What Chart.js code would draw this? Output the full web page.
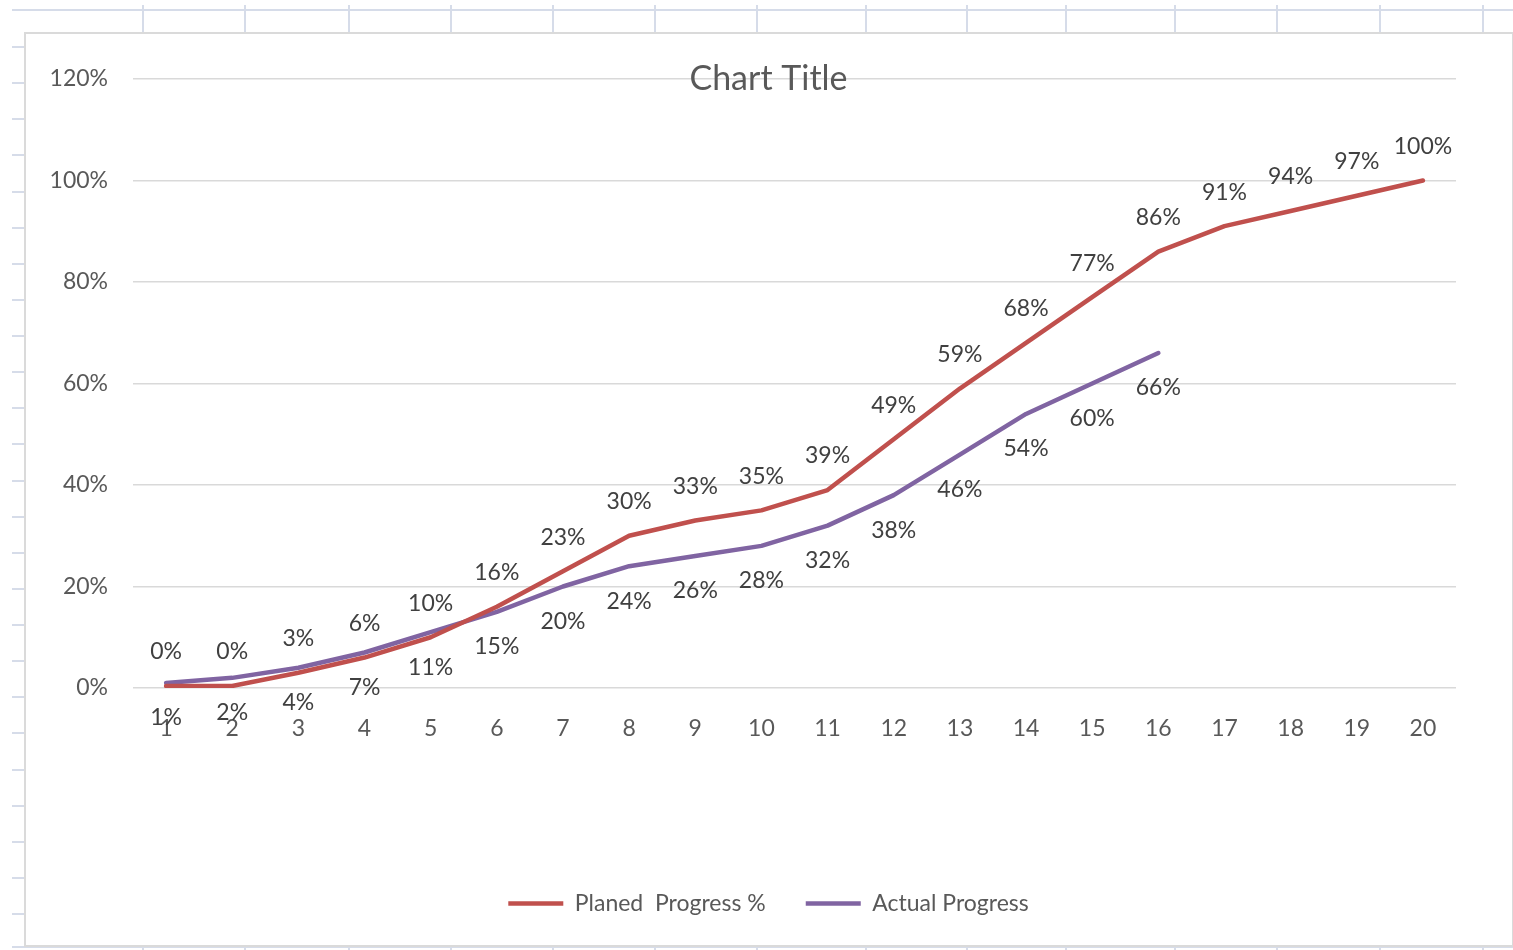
<!DOCTYPE html>
<html><head><meta charset="utf-8">
<script src="https://cdn.jsdelivr.net/npm/chart.js@4.4.1/dist/chart.umd.min.js"></script>
<style>
html,body{margin:0;padding:0;background:#fff;width:1513px;height:950px;overflow:hidden;position:relative}
.h{position:absolute;height:2px;background:#d6dce9}
.v{position:absolute;width:2px;background:#d6dce9}
#box{position:absolute;left:24px;top:32px;width:1486px;height:911px;border:2px solid #dadada;background:#fff}
#c{position:absolute;left:0;top:0}
</style></head><body>
<div id="sheet"></div>
<div id="box"></div>
<canvas id="c" width="1513" height="950"></canvas>
<script>
// ---- data ----
const categories = ['1','2','3','4','5','6','7','8','9','10','11','12','13','14','15','16','17','18','19','20'];
const plannedProgress = [0.004,0.004,0.03,0.06,0.10,0.16,0.23,0.30,0.33,0.35,0.39,0.49,0.59,0.68,0.77,0.86,0.91,0.94,0.97,1.00];
const actualProgress = [0.01,0.02,0.04,0.07,0.11,0.15,0.20,0.24,0.26,0.28,0.32,0.38,0.46,0.54,0.60,0.66];
const seriesNames = ['Planed  Progress %','Actual Progress'];
const yTickValues = [0,0.2,0.4,0.6,0.8,1.0,1.2];
const chartTitle = 'Chart Title';

// ---- spreadsheet background (decoration) ----
const sheet = document.getElementById('sheet');
function addLine(cls, l, t, w, h){const d=document.createElement('div');d.className=cls;d.style.left=l+'px';d.style.top=t+'px';if(w!=null)d.style.width=w+'px';if(h!=null)d.style.height=h+'px';sheet.appendChild(d);}
addLine('h',12,9,1501,null);
addLine('h',12,946,1501,null);
[143,245,349,451,553,655,757,866,967,1066,1175,1277,1380,1483].forEach(x=>{addLine('v',x-1,5,null,28);addLine('v',x-1,944,null,6);});
for(let k=0;k<25;k++){addLine('h',12,Math.round(46+36.125*k),13,null);}

const FONT = 'Lato, "Open Sans", sans-serif';
const AXIS_COLOR = '#595959';
const FS = 23;

const labelPlugin = {
  id: 'pointLabels',
  afterDatasetsDraw(chart, args, opts){
    const ctx = chart.ctx;
    chart.data.datasets.forEach((ds, i) => {
      const meta = chart.getDatasetMeta(i);
      const off = opts.offsets[i];
      meta.data.forEach((pt, j) => {
        const v = ds.data[j];
        if (v == null) return;
        ctx.save();
        ctx.font = opts.size + 'px ' + FONT;
        ctx.fillStyle = '#404040';
        ctx.textAlign = 'center';
        ctx.textBaseline = 'middle';
        ctx.fillText(Math.round(v*100) + '%', pt.x, pt.y + off);
        ctx.restore();
      });
    });
  }
};
const titlePlugin = {
  id: 'overlayTitle',
  afterLayout(chart, args, opts){
    // center the legend row on the chart box rather than the canvas
    const lg = chart.legend;
    if (lg) { const shift = opts.x - (lg.left + lg.right)/2; lg.left += shift; lg.right += shift; }
  },
  afterDraw(chart, args, opts){
    const ctx = chart.ctx;
    ctx.save();
    ctx.font = opts.size + 'px ' + FONT;
    ctx.fillStyle = AXIS_COLOR;
    ctx.textAlign = 'center';
    ctx.textBaseline = 'middle';
    ctx.fillText(chartTitle, opts.x, chart.scales.y.getPixelForValue(1.2) + opts.dy);
    ctx.restore();
  }
};

new Chart(document.getElementById('c'), {
  type: 'line',
  data: {
    labels: categories,
    datasets: [
      {label: seriesNames[0], data: plannedProgress, borderColor: '#C0504D', backgroundColor: '#C0504D', borderWidth: 4.5, pointRadius: 0, tension: 0, borderJoinStyle: 'round', borderCapStyle: 'round'},
      {label: seriesNames[1], data: actualProgress, borderColor: '#8064A2', backgroundColor: '#8064A2', borderWidth: 4.5, pointRadius: 0, tension: 0, borderJoinStyle: 'round', borderCapStyle: 'round'}
    ]
  },
  options: {
    responsive: false,
    animation: false,
    devicePixelRatio: 1,
    layout: {padding: {left: 0, right: 57, top: 79, bottom: 25}},
    scales: {
      x: {
        offset: true,
        grid: {display: false},
        border: {display: false},
        ticks: {color: AXIS_COLOR, font: {family: FONT, size: FS}, padding: 19, maxRotation: 0, autoSkip: false},
        afterFit(s){ s.height = 164; }
      },
      y: {
        min: 0, max: 1.2,
        afterBuildTicks(s){ s.ticks = yTickValues.map(v => ({value: v})); },
        grid: {color: '#d9d9d9', lineWidth: 1.5, drawTicks: false},
        border: {display: false},
        ticks: {color: AXIS_COLOR, font: {family: FONT, size: FS}, padding: 25, callback: v => Math.round(v*100) + '%'},
        afterFit(s){ s.width = 133; }
      }
    },
    plugins: {
      legend: {
        position: 'bottom',
        labels: {usePointStyle: true, pointStyle: 'line', pointStyleWidth: 55, color: AXIS_COLOR, font: {family: FONT, size: FS}, padding: 40}
      },
      tooltip: {enabled: false},
      pointLabels: {offsets: [-34, 35], size: FS},
      overlayTitle: {x: 768.5, size: 34, dy: 0}
    }
  },
  plugins: [labelPlugin, titlePlugin]
});
</script>
</body></html>
